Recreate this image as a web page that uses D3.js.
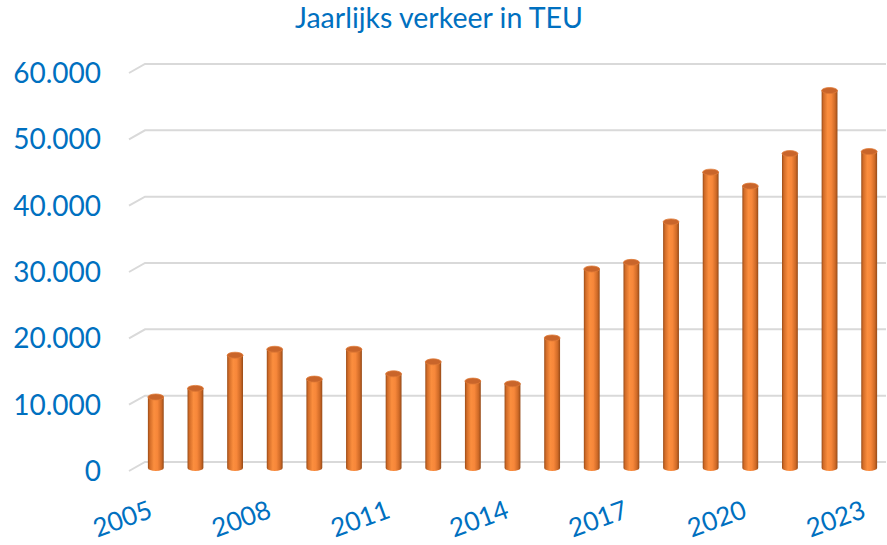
<!DOCTYPE html>
<html>
<head>
<meta charset="utf-8">
<script src="https://cdn.jsdelivr.net/npm/d3@7"></script>
<style>
  html, body { margin: 0; padding: 0; background: #fff; }
  svg { display: block; }
</style>
</head>
<body>
<svg id="chart" width="887" height="545"></svg>
<script>
const years = [2005,2006,2007,2008,2009,2010,2011,2012,2013,2014,2015,2016,2017,2018,2019,2020,2021,2022,2023];
const teu = [10700,12000,17000,17900,13400,17900,14200,16000,13100,12700,19600,30000,31000,37100,44600,42500,47400,56900,47700];
const yTicks = [0,10000,20000,30000,40000,50000,60000];
const xLabelYears = [2005,2008,2011,2014,2017,2020,2023];
const title = "Jaarlijks verkeer in TEU";

const blue = "#0070C0";
const font = "Lato, 'Open Sans', sans-serif";
const svg = d3.select("#chart");

// back wall scale
const y = d3.scaleLinear().domain([0, 60000]).range([462, 64]);
const depthX = 16, depthY = 9, barShift = 6;

const x = d3.scaleBand().domain(years).range([136, 889]).paddingInner(0.6).paddingOuter(0.3);

// gradient for cylinders
const defs = svg.append("defs");
const g = defs.append("linearGradient").attr("id", "cyl").attr("x1", "0").attr("x2", "1").attr("y1", "0").attr("y2", "0");
[[0,"#9a4c18"],[0.12,"#d26c28"],[0.38,"#fb8e3e"],[0.6,"#f7873a"],[0.85,"#cf6a27"],[1,"#954a18"]]
  .forEach(([o,c]) => g.append("stop").attr("offset", o).attr("stop-color", c));

// title
svg.append("text").attr("x", 439).attr("y", 28).attr("text-anchor", "middle")
  .attr("font-family", font).attr("font-size", 28.5).attr("fill", blue).text(title);

// gridlines
const grid = svg.append("g").attr("fill", "none").attr("stroke", "#d9d9d9").attr("stroke-width", 2);
grid.selectAll("path").data(yTicks).join("path")
  .attr("d", d => `M${145 - depthX},${y(d) + depthY} L145,${y(d)} L886,${y(d)}`);

// y labels
svg.append("g").selectAll("text").data(yTicks).join("text")
  .attr("x", 101).attr("y", d => y(d) + depthY).attr("dy", "0.36em")
  .attr("text-anchor", "end").attr("font-family", font).attr("font-size", 28).attr("fill", blue)
  .text(d => d === 0 ? "0" : d3.format(",")(d).replace(/,/g, "."));

// bars
const bars = svg.append("g");
const bw = x.bandwidth();
const ry = 3;
years.forEach((yr, i) => {
  const x0 = x(yr), cx = x0 + bw / 2;
  const yb = y(0) + barShift, yt = y(teu[i]) + barShift;
  const b = bars.append("g");
  b.append("path")
    .attr("d", `M${x0},${yt} L${x0},${yb} A${bw/2},${ry} 0 0 0 ${x0+bw},${yb} L${x0+bw},${yt} Z`)
    .attr("fill", "url(#cyl)");
  b.append("ellipse").attr("cx", cx).attr("cy", yt).attr("rx", bw / 2).attr("ry", ry)
    .attr("fill", "#c9652a").attr("stroke", "#e07a36").attr("stroke-width", 0.8);
});

// x labels
svg.append("g").selectAll("text").data(xLabelYears).join("text")
  .attr("transform", d => `translate(${x(d) + bw / 2 - 2},${517}) rotate(-20)`)
  .attr("text-anchor", "end").attr("font-family", font).attr("font-size", 26).attr("fill", blue)
  .text(d => d);
</script>
</body>
</html>
